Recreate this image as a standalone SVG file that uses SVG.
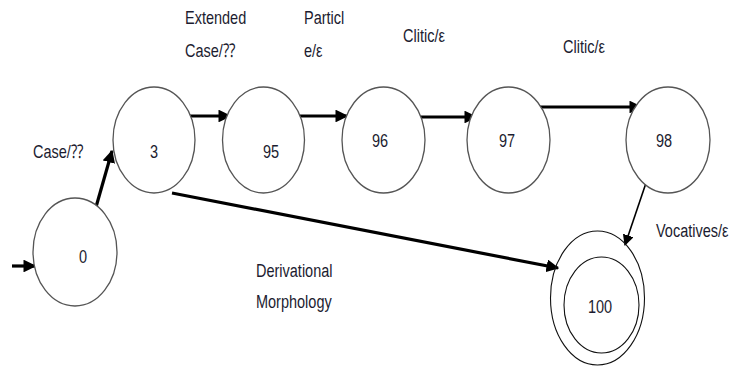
<svg xmlns="http://www.w3.org/2000/svg" width="736" height="367" viewBox="0 0 736 367">
  <style>
    .state { fill: #ffffff; stroke: #555555; stroke-width: 1.3; }
    .final { fill: none; stroke: #111111; stroke-width: 1.1; }
    .lbl { font-family: "Liberation Sans", Arial, sans-serif; font-size: 14.5px; fill: #1c1c30; }
    .edge { stroke: #000000; stroke-width: 3.2; fill: none; }
    .thin { stroke: #000000; stroke-width: 1.6; fill: none; }
  </style>
  <defs>
    <marker id="head" viewBox="0 0 10 10" refX="9" refY="5" markerWidth="4" markerHeight="4" markerUnits="strokeWidth" orient="auto">
      <path d="M0,0 L10,5 L0,10 Z" fill="#000000"/>
    </marker>
    <marker id="headThin" viewBox="0 0 10 10" refX="9" refY="5" markerWidth="7" markerHeight="7" markerUnits="strokeWidth" orient="auto">
      <path d="M0,0 L10,5 L0,10 Z" fill="#000000"/>
    </marker>
  </defs>

  <!-- transitions -->
  <g id="connectors">
    <line class="edge" x1="12" y1="266" x2="35" y2="266" marker-end="url(#head)"/>
    <line class="edge" x1="96" y1="207" x2="112" y2="151" marker-end="url(#head)"/>
    <line class="edge" x1="190" y1="116" x2="230" y2="116" marker-end="url(#head)"/>
    <line class="edge" x1="300" y1="116" x2="347" y2="116" marker-end="url(#head)"/>
    <line class="edge" x1="417" y1="117" x2="476" y2="117" marker-end="url(#head)"/>
    <line class="edge" x1="540" y1="107" x2="641" y2="107" marker-end="url(#head)"/>
    <line class="edge" x1="172" y1="193" x2="558" y2="268" marker-end="url(#head)"/>
    <line class="thin" x1="646" y1="183" x2="625" y2="245" marker-end="url(#headThin)"/>
  </g>

  <!-- states -->
  <g id="state-0">
    <ellipse class="state" cx="75" cy="252" rx="42" ry="54"/>
    <text class="lbl" transform="translate(79,263) scale(1,1.3)">0</text>
  </g>
  <g id="state-3">
    <ellipse class="state" cx="154" cy="140" rx="41" ry="53"/>
    <text class="lbl" transform="translate(150,158) scale(1,1.3)">3</text>
  </g>
  <g id="state-95">
    <ellipse class="state" cx="263.5" cy="140" rx="41" ry="53"/>
    <text class="lbl" transform="translate(263,158) scale(1,1.3)">95</text>
  </g>
  <g id="state-96">
    <ellipse class="state" cx="383.5" cy="140" rx="41.5" ry="53"/>
    <text class="lbl" transform="translate(372,147) scale(1,1.3)">96</text>
  </g>
  <g id="state-97">
    <ellipse class="state" cx="508.5" cy="140" rx="41.5" ry="53"/>
    <text class="lbl" transform="translate(499,147) scale(1,1.3)">97</text>
  </g>
  <g id="state-98">
    <ellipse class="state" cx="668" cy="140" rx="42" ry="53"/>
    <text class="lbl" transform="translate(656,147) scale(1,1.3)">98</text>
  </g>
  <g id="state-100">
    <ellipse class="final" cx="597.5" cy="298" rx="47" ry="67"/>
    <ellipse class="final" cx="601.5" cy="305" rx="37.5" ry="48"/>
    <text class="lbl" transform="translate(588,313) scale(1,1.3)">100</text>
  </g>

  <!-- transition labels -->
  <g id="labels">
    <text class="lbl" transform="translate(33,158) scale(1,1.3)">Case/⁇</text>
    <text class="lbl" transform="translate(185,24) scale(1,1.3)">Extended</text>
    <text class="lbl" transform="translate(185,57) scale(1,1.3)">Case/⁇</text>
    <text class="lbl" transform="translate(304,24) scale(1,1.3)">Particl</text>
    <text class="lbl" transform="translate(304,57) scale(1,1.3)">e/ε</text>
    <text class="lbl" transform="translate(403,42) scale(1,1.3)">Clitic/ε</text>
    <text class="lbl" transform="translate(563,53) scale(1,1.3)">Clitic/ε</text>
    <text class="lbl" transform="translate(256,277) scale(1,1.3)">Derivational</text>
    <text class="lbl" transform="translate(256,308) scale(1,1.3)">Morphology</text>
    <text class="lbl" transform="translate(656,237) scale(1,1.3)">Vocatives/ε</text>
  </g>
</svg>
